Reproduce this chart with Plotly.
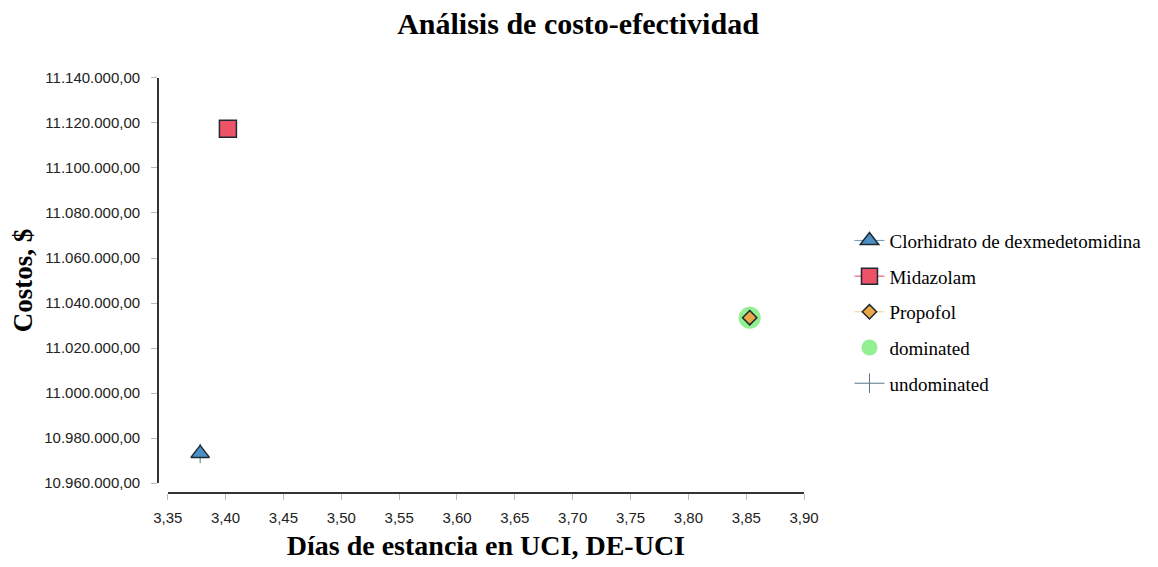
import plotly.graph_objects as go

# Data
strategies = ["Clorhidrato de dexmedetomidina", "Midazolam", "Propofol"]
dias_uci = [3.378, 3.402, 3.853]
costos = [10973200, 11117400, 11033500]
dominated_idx = [2]
undominated_idx = [0]
x_ticks = [3.35, 3.40, 3.45, 3.50, 3.55, 3.60, 3.65, 3.70, 3.75, 3.80, 3.85, 3.90]
y_ticks = [10960000, 10980000, 11000000, 11020000, 11040000, 11060000,
           11080000, 11100000, 11120000, 11140000]

fill_colors = ["#4d8fc4", "#ec5366", "#e8a84a"]
line_colors = ["#6a98bc", "#d9485a", "#f2cd86"]
symbols = ["triangle-up", "square", "diamond"]
sizes = [16, 17, 11]

fig = go.Figure()

# undominated frontier
fig.add_trace(go.Scatter(
    x=[dias_uci[i] for i in undominated_idx],
    y=[costos[i] for i in undominated_idx],
    mode="lines+markers", name="undominated",
    line=dict(color="#587888", width=1),
    marker=dict(symbol="line-ns", size=14, line=dict(color="#587888", width=1)),
    legendgroup="g5", legendrank=5,
))

# dominated halo
fig.add_trace(go.Scatter(
    x=[dias_uci[i] for i in dominated_idx],
    y=[costos[i] for i in dominated_idx],
    mode="markers", name="dominated",
    marker=dict(symbol="circle", size=22, color="rgba(110,235,110,0.75)"),
    legendgroup="g4", legendrank=4,
))

for i, s in enumerate(strategies):
    fig.add_trace(go.Scatter(
        x=[dias_uci[i]], y=[costos[i]],
        mode="lines+markers", name=s,
        line=dict(color=line_colors[i], width=1),
        marker=dict(symbol=symbols[i], size=sizes[i], color=fill_colors[i],
                    line=dict(color="#1e2a30", width=1.5)),
        legendgroup=f"g{i+1}", legendrank=i + 1,
    ))

# The page body adds an 8px offset; work in figure pixels (page - 8)
W, H = 1150, 559
pl, pr, pt, pb = 142, 812, 62, 492
pw = pr - pl
ph = pb - pt

def px_x(p):
    return (p - pl) / pw

def px_y(p):
    return (pb - p) / ph

fig.update_layout(
    width=W, height=H,
    margin=dict(l=pl, r=W - pr, t=pt, b=H - pb),
    paper_bgcolor="white", plot_bgcolor="white",
    separators=",.",
    title=dict(text="<b>Análisis de costo-efectividad</b>",
               font=dict(family="Liberation Serif", size=30, color="black"),
               x=570 / W, xref="container", xanchor="center",
               y=1 - 15 / H, yref="container", yanchor="middle"),
    xaxis=dict(
        domain=[px_x(160), px_x(805)],
        range=[3.35, 3.90], tickvals=x_ticks, tickformat=".2f",
        anchor="free", position=px_y(489),
        showline=True, linecolor="#333333", linewidth=1.5,
        ticks="outside", ticklen=6, tickcolor="#bbbbbb",
        ticklabelstandoff=5,
        showgrid=False, zeroline=False,
        tickfont=dict(family="Liberation Sans", size=15, color="#222222"),
        title=dict(text="<b>Días de estancia en UCI, DE-UCI</b>",
                   font=dict(family="Liberation Serif", size=28, color="black"),
                   standoff=10),
    ),
    yaxis=dict(
        domain=[px_y(479), px_y(70)],
        range=[10960000, 11140000], tickvals=y_ticks, tickformat=",.2f",
        anchor="free", position=px_x(150),
        showline=True, linecolor="#333333", linewidth=1.5,
        ticks="outside", ticklen=6, tickcolor="#bbbbbb",
        ticklabelstandoff=8,
        showgrid=False, zeroline=False,
        tickfont=dict(family="Liberation Sans", size=15, color="#222222"),
        title=dict(text="<b>Costos, $</b>",
                   font=dict(family="Liberation Serif", size=27, color="black"),
                   standoff=4),
    ),
    legend=dict(
        x=px_x(851), y=px_y(215), xanchor="left", yanchor="top",
        traceorder="grouped", tracegroupgap=8,
        font=dict(family="Liberation Serif", size=19, color="black"),
        bgcolor="rgba(0,0,0,0)",
    ),
)

fig.write_html("out.html")
